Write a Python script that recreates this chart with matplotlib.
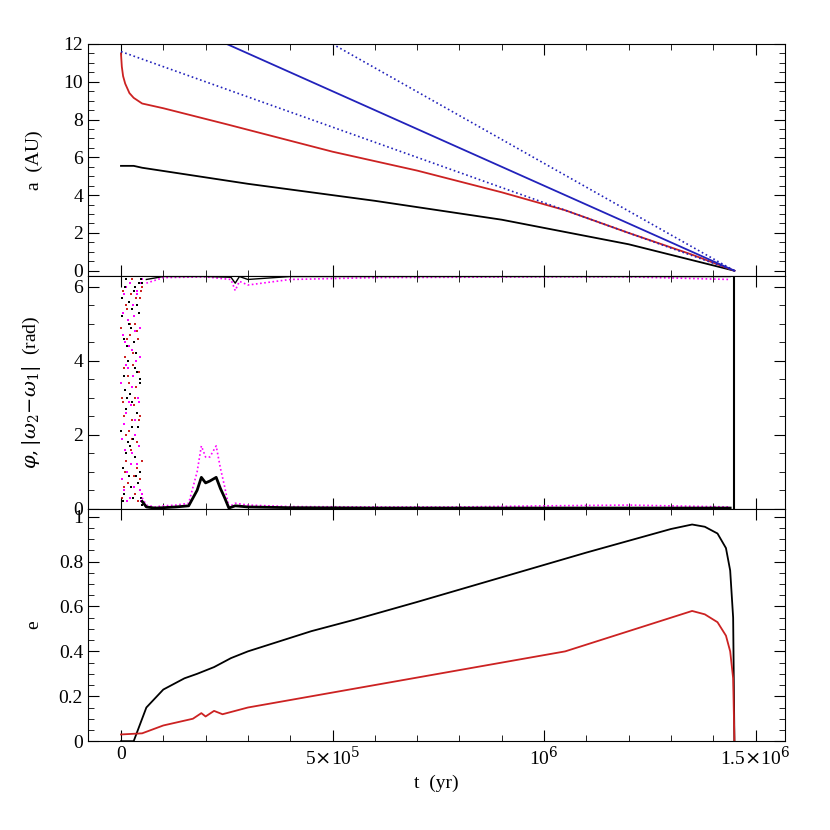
import numpy as np
import matplotlib
matplotlib.use('Agg')
import matplotlib.pyplot as plt
from matplotlib.ticker import MultipleLocator, FixedLocator

plt.rcParams['font.family'] = ['Liberation Serif', 'DejaVu Serif']
plt.rcParams['mathtext.fontset'] = 'dejavuserif'
plt.rcParams['font.size'] = 14

# semi-major axes (AU)
t_b = [0, 3e4, 5e4, 3e5, 6e5, 9e5, 1.2e6, 1.45e6]
a_b = [5.55, 5.55, 5.45, 4.6, 3.7, 2.7, 1.4, 0.0]
t_r = [0, 2e3, 5e3, 1e4, 2e4, 3e4, 5e4, 1e5, 2.5e5, 5e5, 7e5, 9e5, 1.05e6, 1.2e6, 1.35e6, 1.45e6]
a_r = [11.5, 10.8, 10.3, 9.9, 9.4, 9.15, 8.85, 8.6, 7.75, 6.3, 5.3, 4.15, 3.2, 2.0, 0.85, 0.0]
t_blue = [2.5e5, 1.45e6]
a_blue = [12.0, 0.0]
t_dot1 = [0, 1.45e6]
a_dot1 = [11.6, 0.0]
t_dot2 = [5.0e5, 1.45e6]
a_dot2 = [12.0, 0.0]

# resonant angles: chaotic early phase (hand-read points)
ch_t = [2e3, 4e3, 6e3, 8e3, 1e4, 1.2e4, 1.4e4, 1.6e4, 1.8e4, 2e4, 2.2e4, 2.4e4, 2.6e4, 2.8e4,
        3e4, 3.2e4, 3.4e4, 3.6e4, 3.8e4, 4e4, 4.2e4, 4.4e4, 4.6e4, 4.8e4, 5e4]
ch_t2 = [1e3, 3e3, 5e3, 7e3, 9e3, 1.1e4, 1.3e4, 1.5e4, 1.7e4, 1.9e4, 2.1e4, 2.3e4, 2.5e4, 2.7e4,
         2.9e4, 3.1e4, 3.3e4, 3.5e4, 3.7e4, 3.9e4, 4.1e4, 4.3e4, 4.5e4, 4.7e4, 4.9e4]
ch_black = [5.2, 1.1, 3.6, 0.4, 6.0, 2.7, 4.4, 1.8, 5.6, 0.9, 3.1, 4.9, 2.2, 0.3,
            5.9, 3.8, 1.4, 4.2, 2.6, 0.7, 5.3, 3.4, 1.0, 0.3, 6.1]
ch_mag = [0.8, 4.7, 2.3, 5.8, 1.6, 3.9, 0.2, 5.1, 2.9, 4.4, 6.1, 1.2, 3.3, 5.5,
          0.6, 2.0, 4.8, 0.9, 5.9, 3.0, 1.7, 4.1, 0.5, 0.2, 6.2]
ch_red = [3.0, 5.9, 0.6, 2.5, 4.1, 1.3, 5.4, 3.6, 0.9, 2.1, 4.7, 5.8, 1.9, 3.9,
          2.8, 0.4, 5.0, 3.3, 1.1, 4.6, 2.4, 0.8, 5.7, 0.3, 6.0]
ch_black2 = [2.1, 5.7, 0.2, 4.6, 3.2, 6.2, 1.5, 3.0, 4.0, 5.0, 1.7, 0.6, 5.4, 2.9,
             1.9, 4.5, 6.0, 0.9, 3.7, 5.5, 2.2, 6.1, 3.5, 6.2, 0.1]
ch_mag2 = [3.4, 1.9, 5.3, 0.5, 4.5, 2.6, 6.0, 1.0, 3.8, 5.6, 0.3, 2.8, 4.3, 1.5,
           3.6, 5.2, 2.4, 4.0, 1.2, 5.8, 0.7, 2.9, 4.9, 6.1, 0.4]
ch_red2 = [4.9, 0.3, 2.9, 3.8, 1.0, 5.5, 2.0, 4.6, 0.7, 3.4, 5.0, 1.6, 6.2, 2.4,
           4.2, 0.9, 3.0, 5.7, 1.8, 4.8, 0.2, 3.7, 2.5, 5.9, 1.3]

# libration phase (smooth)
t_lib = [5e4, 6e4, 8e4, 1e5, 1.3e5, 1.6e5, 1.8e5, 1.9e5, 2.0e5, 2.1e5, 2.25e5, 2.35e5, 2.45e5, 2.55e5,
         2.7e5, 3e5, 4e5, 6e5, 8e5, 1.0e6, 1.2e6, 1.44e6]
phi_mag = [0.3, 0.1, 0.05, 0.08, 0.1, 0.15, 1.0, 1.7, 1.4, 1.4, 1.7, 1.1, 0.6, 0.05,
           0.15, 0.1, 0.06, 0.05, 0.05, 0.08, 0.1, 0.05]
phi_blk = [0.2, 0.05, 0.02, 0.03, 0.05, 0.08, 0.5, 0.85, 0.7, 0.75, 0.85, 0.55, 0.3, 0.02,
           0.08, 0.05, 0.03, 0.02, 0.02, 0.02, 0.02, 0.02]
t_top = [6e4, 1e5, 2e5, 2.6e5, 2.7e5, 2.8e5, 3e5, 4e5, 6e5, 8e5, 1.0e6, 1.2e6, 1.44e6]
top_mag = [6.1, 6.25, 6.27, 6.2, 5.9, 6.15, 6.05, 6.2, 6.25, 6.26, 6.27, 6.27, 6.2]
top_blk = [6.2, 6.28, 6.28, 6.26, 6.1, 6.28, 6.2, 6.28, 6.28, 6.28, 6.28, 6.28, 6.28]
t_end = [1.45e6, 1.45e6]
phi_end = [0.0, 6.28]

# eccentricities
t_e = [0, 3e4, 4e4, 6e4, 1e5, 1.5e5, 1.8e5, 2.2e5, 2.6e5, 3e5, 4.5e5, 5.5e5, 7e5, 9e5, 1.1e6, 1.3e6,
       1.35e6, 1.38e6, 1.41e6, 1.43e6, 1.44e6, 1.447e6, 1.45e6]
e_b = [0.0, 0.0, 0.05, 0.15, 0.23, 0.28, 0.3, 0.33, 0.37, 0.4, 0.49, 0.54, 0.62, 0.73, 0.84, 0.945,
       0.965, 0.955, 0.925, 0.86, 0.76, 0.55, 0.0]
t_e2 = [0, 5e4, 1e5, 1.7e5, 1.9e5, 2e5, 2.2e5, 2.4e5, 2.6e5, 3e5, 4.5e5, 6e5, 7.5e5, 9e5, 1.05e6,
        1.15e6, 1.25e6, 1.35e6, 1.38e6, 1.41e6, 1.43e6, 1.44e6, 1.447e6, 1.45e6]
e_r = [0.03, 0.035, 0.07, 0.1, 0.125, 0.11, 0.135, 0.12, 0.13, 0.15, 0.2, 0.25, 0.3, 0.35, 0.4,
       0.46, 0.52, 0.58, 0.565, 0.53, 0.47, 0.4, 0.28, 0.0]

fig, (ax1, ax2, ax3) = plt.subplots(3, 1, sharex=True, figsize=(8.3, 8.3), dpi=100,
                                    gridspec_kw={'hspace': 0})
fig.subplots_adjust(left=0.106, right=0.946, top=0.947, bottom=0.107)

ax1.plot(t_b, a_b, 'k', lw=1.3)
ax1.plot(t_r, a_r, color='#cc2222', lw=1.3)
ax1.plot(t_blue, a_blue, color='#2222bb', lw=1.3)
ax1.plot(t_dot1, a_dot1, color='#2222bb', lw=1.2, ls=':')
ax1.plot(t_dot2, a_dot2, color='#2222bb', lw=1.2, ls=':')
ax1.set_ylim(-0.3, 12)
ax1.set_ylabel('a  (AU)')
ax1.yaxis.set_major_locator(MultipleLocator(2))
ax1.yaxis.set_minor_locator(MultipleLocator(0.5))

for xs, ys, c in [(ch_t, ch_mag, 'magenta'), (ch_t2, ch_mag2, 'magenta'),
                  (ch_t, ch_red, '#cc2222'), (ch_t2, ch_red2, '#cc2222'),
                  (ch_t, ch_black, 'k'), (ch_t2, ch_black2, 'k')]:
    ax2.scatter(xs, ys, s=4, c=c, marker='s', lw=0)
ax2.plot(t_lib, phi_mag, color='magenta', lw=1.2, ls=(0, (1, 1.5)))
ax2.plot(t_lib, phi_blk, 'k', lw=2)
ax2.plot(t_top, top_mag, color='magenta', lw=1.2, ls=(0, (1, 1.5)))
ax2.plot(t_top, top_blk, 'k', lw=1)
ax2.plot(t_end, phi_end, 'k', lw=1.5)
ax2.set_ylim(0, 2 * np.pi)
ax2.set_ylabel(r'$\varphi,|\omega_2\!-\!\omega_1|$  (rad)')
ax2.yaxis.set_major_locator(FixedLocator([0, 2, 4, 6]))
ax2.yaxis.set_minor_locator(MultipleLocator(0.5))

ax3.plot(t_e, e_b, 'k', lw=1.3)
ax3.plot(t_e2, e_r, color='#cc2222', lw=1.3)
ax3.set_ylim(0, 1.035)
ax3.set_ylabel('e')
ax3.yaxis.set_minor_locator(MultipleLocator(0.05))
ax3.set_yticks([0, 0.2, 0.4, 0.6, 0.8, 1.0])
ax3.set_yticklabels(['0', '0.2', '0.4', '0.6', '0.8', '1'])

ax3.set_xlim(-0.78e5, 1.57e6)
ax3.xaxis.set_major_locator(FixedLocator([0, 5e5, 1e6, 1.5e6]))
ax3.xaxis.set_minor_locator(MultipleLocator(1e5))
ax3.set_xticklabels(['0', r'5$\times$10$^5$', r'10$^6$', r'1.5$\times$10$^6$'])
ax3.set_xlabel('t  (yr)')

for ax in (ax1, ax2, ax3):
    ax.tick_params(which='both', direction='in', top=True, right=True)
    ax.tick_params(which='major', length=8)
    ax.tick_params(which='minor', length=4)
    ax.yaxis.set_label_coords(-0.065, 0.5)

fig.savefig('out.png', dpi=100)
